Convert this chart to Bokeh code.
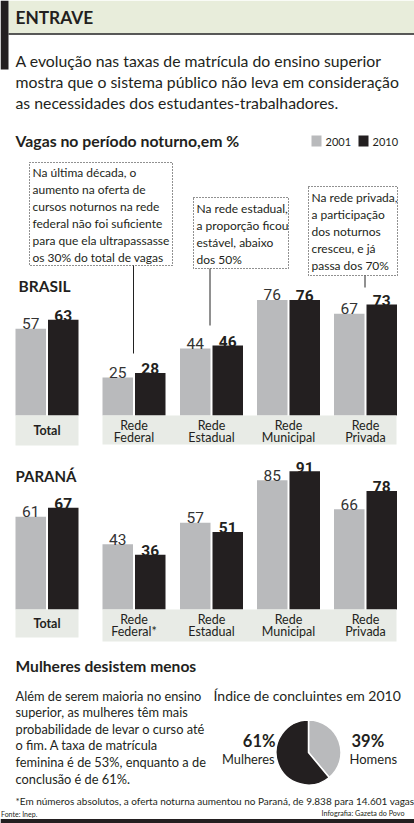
from bokeh.plotting import figure
from bokeh.models import Range1d
from bokeh.embed import file_html
from bokeh.resources import INLINE
from bokeh.core.properties import value
import math

# ---------------- data ----------------
categories = ["Total", "Rede Federal", "Rede Estadual", "Rede Municipal", "Rede Privada"]
categories_pr = ["Total", "Rede Federal*", "Rede Estadual", "Rede Municipal", "Rede Privada"]
years = ["2001", "2010"]
brasil_2001 = [57, 25, 44, 76, 67]
brasil_2010 = [63, 28, 46, 76, 73]
parana_2001 = [61, 43, 57, 85, 66]
parana_2010 = [67, 36, 51, 91, 78]
pie_labels = ["Homens", "Mulheres"]
pie_shares = [39, 61]

title = "ENTRAVE"
subtitle = ["A evolução nas taxas de matrícula do ensino superior",
            "mostra que o sistema público não leva em consideração",
            "as necessidades dos estudantes-trabalhadores."]
chart_title = "Vagas no período noturno,em %"
note1 = ["Na última década, o", "aumento na oferta de", "cursos noturnos na rede",
         "federal não foi suficiente", "para que ela ultrapassasse", "os 30% do total de vagas"]
note2 = ["Na rede estadual,", "a proporção ficou", "estável, abaixo", "dos 50%"]
note3 = ["Na rede privada,", "a participação", "dos noturnos", "cresceu, e já", "passa dos 70%"]
sec2_title = "Mulheres desistem menos"
sec2_text = ["Além de serem maioria no ensino", "superior, as mulheres têm mais",
             "probabilidade de levar o curso até", "o fim. A taxa de matrícula",
             "feminina é de 53%, enquanto a de", "conclusão é de 61%."]
pie_title = "Índice de concluintes em 2010"
footnote = "*Em números absolutos, a oferta noturna aumentou no Paraná, de 9.838 para 14.601 vagas"
source = "Fonte: Inep."
credit = "Infografia: Gazeta do Povo"

# ---------------- style ----------------
FONT = "Lato"
NUM = "Roboto"
GRAY = "#b9babc"
BLACK = "#231f20"
BAND = "#e8ebe6"
HEADER = "#e8eddb"
TXT = "#231f20"

K = 1.52  # px per percentage point
BR_BASE = 415
PR_BASE = 609
PIE_CY = 752
W, H = 414, 823

p = figure(width=W, height=H, x_range=Range1d(0, W), y_range=Range1d(H, 0),
           output_backend="svg", toolbar_location=None, x_axis_type=None, y_axis_type=None,
           min_border=0, outline_line_color=None, background_fill_color="white",
           border_fill_color="white")
p.grid.visible = False
p.extra_y_ranges = {
    "br": Range1d(start=(BR_BASE - H) / K, end=BR_BASE / K),
    "pr": Range1d(start=(PR_BASE - H) / K, end=PR_BASE / K),
    "pie": Range1d(start=PIE_CY - H, end=PIE_CY),
}


def txt(x, y, s, size, font=FONT, style="normal", color=TXT, align="left", baseline="middle"):
    p.text(x=[x], y=[y], text=[s], text_font=value(font), text_font_size=f"{size}px",
           text_font_style=style, text_color=color, text_align=align, text_baseline=baseline)


# header
p.quad(left=[8], right=[414], top=[0], bottom=[33], fill_color=HEADER, line_color=None)
p.quad(left=[0], right=[8], top=[0], bottom=[69], fill_color=BLACK, line_color=None)
p.segment(x0=[8], y0=[33.5], x1=[414], y1=[33.5], line_color="#222222", line_width=1.5)
txt(15, 17, title, 17.3, style="bold")
for i, s in enumerate(subtitle):
    txt(15, 60 + 21 * i, s, 15.8)

txt(15, 140, chart_title, 15.8, style="bold")
# legend
p.quad(left=[311], right=[321], top=[135], bottom=[146], fill_color=GRAY, line_color=None)
txt(325, 141, years[0], 11)
p.quad(left=[358], right=[368], top=[135], bottom=[146], fill_color=BLACK, line_color=None)
txt(372, 141, years[1], 11)

centers = [46.5, 133.5, 211, 288, 365]
OFF, BW = 16.25, 30.5


def bar_panel(vals01, vals10, rng, base, cats, band_h_total, band_h_rede):
    x01 = [c - OFF for c in centers]
    x10 = [c + OFF for c in centers]
    p.vbar(x=x01, top=vals01, bottom=0, width=BW, fill_color=GRAY, line_color=None, y_range_name=rng)
    p.vbar(x=x10, top=vals10, bottom=0, width=BW, fill_color=BLACK, line_color=None, y_range_name=rng)
    p.text(x=x01, y=vals01, text=[str(v) for v in vals01], y_range_name=rng, y_offset=-5,
           text_font=value(NUM), text_font_size="15.5px", text_color="#333333",
           text_align="center", text_baseline="alphabetic")
    p.text(x=x10, y=vals10, text=[str(v) for v in vals10], y_range_name=rng, y_offset=-4,
           text_font=value(NUM), text_font_size="15.5px", text_font_style="bold",
           text_color=BLACK, text_align="center", text_baseline="alphabetic")
    # category bands
    p.quad(left=[15], right=[78], top=[base], bottom=[base + band_h_total], fill_color=BAND, line_color=None)
    p.quad(left=[102], right=[396], top=[base], bottom=[base + band_h_rede], fill_color=BAND, line_color=None)
    for c, cat in zip(centers, cats):
        parts = cat.split(" ")
        if len(parts) == 1:
            txt(c, base + band_h_total / 2, parts[0], 12.5, style="bold", align="center")
        else:
            txt(c, base + 10, parts[0], 12.5, align="center")
            txt(c, base + 22, parts[1], 12.5, align="center")


txt(18, 285, "BRASIL", 15.5, style="bold")
bar_panel(brasil_2001, brasil_2010, "br", BR_BASE, categories, 30, 29)
txt(15, 475, "PARANÁ", 15, style="bold")
bar_panel(parana_2001, parana_2010, "pr", PR_BASE, categories_pr, 28, 32)


# callouts
def callout(l, r, t, b, lines, y0, lx, ly1):
    p.quad(left=[l], right=[r], top=[t], bottom=[b], fill_color="white", line_color="#222222",
           line_width=1, line_dash="1 2")
    for i, s in enumerate(lines):
        txt(l + 3, y0 + 17 * i, s, 12)
    p.segment(x0=[lx], y0=[b], x1=[lx], y1=[ly1], line_color="#222222", line_width=1)


callout(29, 172, 162, 265, note1, 172, 133, 353)
callout(193, 288, 197, 268, note2, 208, 209.5, 325)
callout(308, 397, 186, 275, note3, 197, 364.5, 287)

# bottom section
txt(15, 665, sec2_title, 15.6, style="bold")
for i, s in enumerate(sec2_text):
    txt(15, 695 + 16.6 * i, s, 12.8)
txt(213, 695, pie_title, 14)

# pie (starts at 12 o'clock, clockwise for Homens)
ang = []
start = 90.0
for share in pie_shares:
    end = start - share * 3.6
    ang.append((end, start))
    start = end
pie_colors = [GRAY, BLACK]
for (a0, a1), col in zip(ang, pie_colors):
    p.wedge(x=[308], y=[0], radius=32.5, start_angle=[math.radians(a0)], end_angle=[math.radians(a1)],
            direction="anticlock", fill_color=col, line_color="white", line_width=1.5,
            y_range_name="pie")

txt(275, 740, f"{pie_shares[1]}%", 16.5, style="bold", align="right")
txt(274, 758, pie_labels[1], 12.8, align="right")
txt(351, 740, f"{pie_shares[0]}%", 16.5, style="bold")
txt(349, 758, pie_labels[0], 13)

txt(15, 800.5, footnote, 10)
txt(0.5, 813, source, 7)
txt(404, 813, credit, 7.2, align="right")
p.quad(left=[0], right=[414], top=[818.5], bottom=[823], fill_color=BLACK, line_color=None)

open("out.html", "w").write(file_html(p, INLINE))
